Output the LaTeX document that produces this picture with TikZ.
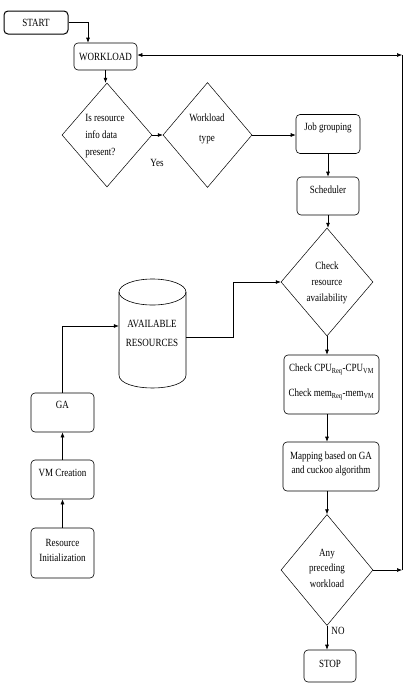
\documentclass[tikz,border=0pt]{standalone}
\usepackage{fontspec}
\setmainfont[FakeStretch=0.82]{Liberation Serif}
\usetikzlibrary{arrows.meta,shapes.geometric,calc}
\begin{document}
\begin{tikzpicture}[x=1pt,y=-1pt,
  font=\fontsize{11}{13}\selectfont,
  box/.style={draw, rounded corners=4pt, line width=0.6pt, inner sep=0pt},
  dia/.style={draw, diamond, line width=0.5pt, inner sep=0pt},
  txt/.style={inner sep=0pt, align=center},
  arr/.style={-{Latex[length=5pt,width=4pt]}, line width=0.6pt},
  ln/.style={line width=0.6pt}]
\useasboundingbox (0,0) rectangle (406,686);

% boxes
\node[box, line width=1pt, minimum width=64pt, minimum height=23pt] (start) at (36,22.5) {};
\node[txt] (starttxt) at (36,23) {START};
\node[box, minimum width=63pt, minimum height=27pt] (workload) at (105.5,56.5) {};
\node[txt] (workloadtxt) at (105.5,56.5) {WORKLOAD};

\node[dia, minimum width=90pt, minimum height=104pt] (d1) at (107,135) {};
\node[txt, align=left, font=\fontsize{11}{17}\selectfont] (d1txt) at (105,136) {Is resource\\info data\\present?};
\node[txt] (yes) at (157,163) {Yes};

\node[dia, minimum width=89pt, minimum height=105pt] (d2) at (207.5,135) {};
\node[txt, font=\fontsize{11}{20}\selectfont] (d2txt) at (207,129) {Workload\\type};

\node[box, minimum width=64pt, minimum height=39pt] (jg) at (328,134) {};
\node[txt] (jgtxt) at (328,128) {Job grouping};
\node[box, minimum width=62pt, minimum height=38pt] (sch) at (328,196) {};
\node[txt] (schtxt) at (328,190) {Scheduler};

\node[dia, minimum width=92pt, minimum height=108pt] (d3) at (327,282) {};
\node[txt, font=\fontsize{11}{16}\selectfont] (d3txt) at (327,283) {Check\\resource\\availability};

\node[box, minimum width=95pt, minimum height=59pt] (cpu) at (331.5,384.5) {};
\node[txt, font=\fontsize{11}{25}\selectfont] (cputxt) at (331.5,382) {Check CPU\textsubscript{Req}-CPU\textsubscript{VM}\\Check mem\textsubscript{Req}-mem\textsubscript{VM}};

\node[box, minimum width=96pt, minimum height=49pt] (map) at (331,466.5) {};
\node[txt, font=\fontsize{11}{13.5}\selectfont] (maptxt) at (331,464) {Mapping based on GA\\and cuckoo algorithm};

\node[dia, minimum width=92pt, minimum height=111pt] (d4) at (327,570) {};
\node[txt, font=\fontsize{11}{15.5}\selectfont] (d4txt) at (327,568) {Any\\preceding\\workload};
\node[txt] (no) at (338,631) {NO};

\node[box, minimum width=52pt, minimum height=32pt] (stop) at (330,666) {};
\node[txt] (stoptxt) at (330,664) {STOP};

% cylinder
\node[inner sep=0pt, minimum width=67pt, minimum height=109pt] (cyl) at (152.5,333.5) {};
\draw[ln] (119,292) -- (119,375) .. controls (119,392.3) and (186,392.3) .. (186,375) -- (186,292);
\draw[ln] (152.5,292) ellipse [x radius=33.5pt, y radius=13pt];
\node[txt, font=\fontsize{11}{19}\selectfont] (cyltxt) at (152,333) {AVAILABLE\\RESOURCES};

% left column
\node[box, minimum width=63pt, minimum height=39pt] (ga) at (62.5,412.5) {};
\node[txt] (gatxt) at (62.5,405) {GA};
\node[box, minimum width=63pt, minimum height=39pt] (vm) at (62.5,479.5) {};
\node[txt] (vmtxt) at (62.5,473) {VM Creation};
\node[box, minimum width=63pt, minimum height=50pt] (ri) at (62.5,553) {};
\node[txt, font=\fontsize{11}{15}\selectfont] (ritxt) at (62.5,550.5) {Resource\\Initialization};

% connectors
\draw[arr] (start.east) -| ([xshift=-17.5pt]workload.north);
\draw[arr] (workload.south) -- (workload.south |- d1.north);
\draw[arr] (d1.east) -- (d2.west);
\draw[arr] (d2.east) -- (d2.east -| jg.west);
\draw[arr] (jg.south) -- (sch.north);
\draw[arr] (sch.south) -- (sch.south |- d3.north);
\draw[arr] ([yshift=-3.5pt]cyl.east) -- ++(47,0) |- (d3.west);
\draw[arr] (ga.north) |- ([yshift=7.5pt]cyl.west);
\draw[arr] (vm.north) -- (ga.south);
\draw[arr] (ri.north) -- (vm.south);
\draw[arr] (d3.south) -- (d3.south |- cpu.north);
\draw[arr] (d3.south |- cpu.south) -- (d3.south |- map.north);
\draw[arr] (d3.south |- map.south) -- (d4.north);
\draw[arr] (d4.south) -- (d4.south |- stop.north);
\coordinate (br) at (402,570);
\coordinate (tr) at (402,55);
\draw[arr] (d4.east) -- (br);
\draw[ln] (br) -- (tr);
\draw[{Latex[length=5pt,width=4pt]}-{Latex[length=5pt,width=4pt]}, line width=0.6pt] (workload.east |- tr) -- (tr);
\end{tikzpicture}
\end{document}
